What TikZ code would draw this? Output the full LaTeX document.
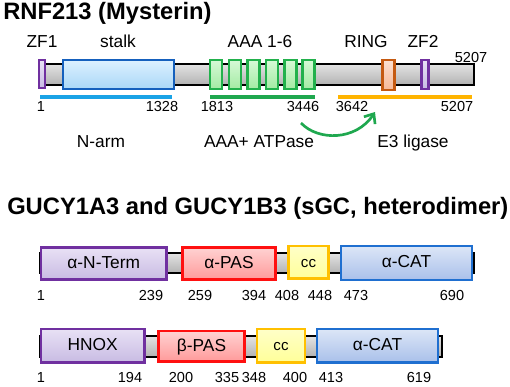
\documentclass[tikz,border=0pt]{standalone}
\usepackage{fontspec}
\setmainfont{Liberation Sans}
\usetikzlibrary{arrows.meta}
\definecolor{purpB}{HTML}{7030A0}
\definecolor{purpT}{HTML}{E8E1F5}
\definecolor{purpM}{HTML}{C8BBE3}
\definecolor{stalkB}{HTML}{1560BD}
\definecolor{stalkT}{HTML}{DDF1FF}
\definecolor{stalkM}{HTML}{A9D7F7}
\definecolor{aaaB}{HTML}{22B14C}
\definecolor{aaaT}{HTML}{D6F9D6}
\definecolor{aaaM}{HTML}{A3EBA3}
\definecolor{ringB}{HTML}{C55A11}
\definecolor{ringT}{HTML}{FCE0D0}
\definecolor{ringM}{HTML}{F6B896}
\definecolor{pasB}{HTML}{FF1010}
\definecolor{pasT}{HTML}{FFD2D2}
\definecolor{pasM}{HTML}{FF9A9A}
\definecolor{ccB}{HTML}{FFC000}
\definecolor{ccT}{HTML}{FFFFC8}
\definecolor{ccM}{HTML}{FFFF99}
\definecolor{catB}{HTML}{1F6FD0}
\definecolor{catT}{HTML}{DCE6F7}
\definecolor{catM}{HTML}{A9C0EA}
\definecolor{lineBlue}{HTML}{1AA3E6}
\definecolor{lineGreen}{HTML}{1FA84F}
\definecolor{lineOrange}{HTML}{FFB400}
\newcommand\dom[7]{%
  \pgfmathsetmacro\dw{(#5-#3)*0.75}%
  \pgfmathsetmacro\dh{(#6-#4)*0.75}%
  \node[#2, minimum width=\dw pt, minimum height=\dh pt] (#1) at ({(#3+#5)/2},{(#4+#6)/2}) {#7};%
}
\begin{document}
\begin{tikzpicture}[x=0.75pt,y=-0.75pt,
  title/.style={font=\bfseries\fontsize{17.8}{20}\selectfont, anchor=base west, inner sep=0pt},
  lab/.style={font=\fontsize{13}{15}\selectfont, anchor=base, inner sep=0pt},
  num/.style={font=\fontsize{10.9}{13}\selectfont, anchor=base, inner sep=0pt},
  dombase/.style={rectangle, inner sep=0pt, line width=1.7pt, font=\fontsize{13}{15}\selectfont, text height=0.72em, text depth=0pt},
  barbox/.style={dombase, draw=black, line width=1.4pt, top color=gray!22, bottom color=gray!60},
  purp/.style={dombase, draw=purpB, top color=purpT, bottom color=purpM},
  stalkbox/.style={dombase, draw=stalkB, top color=stalkT, bottom color=stalkM},
  aaabox/.style={dombase, draw=aaaB, top color=aaaT, bottom color=aaaM},
  ringbox/.style={dombase, draw=ringB, top color=ringT, bottom color=ringM},
  pasbox/.style={dombase, draw=pasB, top color=pasT, bottom color=pasM},
  ccbox/.style={dombase, draw=ccB, top color=ccT, bottom color=ccM, font=\fontsize{11.3}{13}\selectfont},
  catbox/.style={dombase, draw=catB, top color=catT, bottom color=catM},
  rangeline/.style={line width=2.6pt}
]
\useasboundingbox (0,0) rectangle (510,386);

% ---------- RNF213 ----------
\node[title] (t1) at (3,19.5) {RNF213 (Mysterin)};

\dom{bar1}{barbox}{40}{64}{474}{85}{}
\dom{zf1}{purp}{39}{60}{45}{88}{}
\dom{stalk}{stalkbox}{63}{60}{174}{89}{}
\dom{aaa1}{aaabox}{210}{60}{222}{89}{}
\dom{aaa2}{aaabox}{229}{60}{241}{89}{}
\dom{aaa3}{aaabox}{247.5}{60}{259.5}{89}{}
\dom{aaa4}{aaabox}{266}{60}{278}{89}{}
\dom{aaa5}{aaabox}{284.5}{60}{296.5}{89}{}
\dom{aaa6}{aaabox}{302.5}{60}{314.5}{89}{}
\dom{ring}{ringbox}{382.5}{60}{394.5}{90}{}
\dom{zf2}{purp}{421.5}{60}{428.5}{89}{}

\node[lab] (lzf1) at (42,47) {ZF1};
\node[lab] (lstalk) at (118,47) {stalk};
\node[lab] (laaa) at (260,47) {AAA 1-6};
\node[lab] (lring) at (366,47) {RING};
\node[lab] (lzf2) at (423,47) {ZF2};
\node[num] (nend) at (471,62) {5207};

\coordinate (bl1) at (40,97);  \coordinate (bl2) at (172,97);
\coordinate (gl1) at (210,97); \coordinate (gl2) at (315,97);
\coordinate (ol1) at (338,97); \coordinate (ol2) at (472,97);
\draw[rangeline, draw=lineBlue] (bl1) -- (bl2);
\draw[rangeline, draw=lineGreen] (gl1) -- (gl2);
\draw[rangeline, draw=lineOrange] (ol1) -- (ol2);

\node[num] (r1) at (41,111.5) {1};
\node[num] (r1328) at (162,111.5) {1328};
\node[num] (r1813) at (217,111.5) {1813};
\node[num] (r3446) at (303,111.5) {3446};
\node[num] (r3642) at (352,111.5) {3642};
\node[num] (r5207) at (457,111.5) {5207};

\coordinate (arrS) at (301,123);
\coordinate (arrE) at (375,112);
\draw[line width=2pt, lineGreen, -{Straight Barb[length=6pt,width=10pt]}] (arrS) .. controls (318,141) and (356,141) .. (arrE);

\node[lab] (narm) at (101,147) {N-arm};
\node[lab] (natp) at (259,147) {AAA+ ATPase};
\node[lab] (ne3) at (413,147) {E3 ligase};

% ---------- GUCY ----------
\node[title] (t2) at (7,214) {GUCY1A3 and GUCY1B3 (sGC, heterodimer)};

\dom{bar2}{barbox}{40}{253}{474}{273}{}
\dom{anterm}{purp}{41}{247.5}{166.5}{279.5}{α-N-Term}
\dom{apas}{pasbox}{182.5}{247.5}{275.5}{279.5}{α-PAS}
\dom{cc1}{ccbox}{288.5}{246}{328.5}{278.5}{cc}
\dom{acat1}{catbox}{341}{246}{472}{280}{α-CAT}

\node[num] (a1) at (41,300) {1};
\node[num] (a239) at (151,300) {239};
\node[num] (a259) at (200,300) {259};
\node[num] (a394) at (254,300) {394};
\node[num] (a408) at (287,300) {408};
\node[num] (a448) at (320,300) {448};
\node[num] (a473) at (356,300) {473};
\node[num] (a690) at (452,300) {690};

\dom{bar3}{barbox}{40}{336}{442}{357}{}
\dom{hnox}{purp}{41}{329}{144.5}{362.5}{HNOX}
\dom{bpas}{pasbox}{158.5}{331}{244.5}{361.5}{β-PAS}
\dom{cc2}{ccbox}{257}{329}{305}{362.5}{cc}
\dom{acat2}{catbox}{317}{329}{438}{362.5}{α-CAT}

\node[num] (b1) at (41,382.5) {1};
\node[num] (b194) at (130,382.5) {194};
\node[num] (b200) at (181,382.5) {200};
\node[num] (b335) at (227,382.5) {335};
\node[num] (b348) at (254,382.5) {348};
\node[num] (b400) at (295,382.5) {400};
\node[num] (b413) at (331,382.5) {413};
\node[num] (b619) at (419,382.5) {619};
\end{tikzpicture}
\end{document}
